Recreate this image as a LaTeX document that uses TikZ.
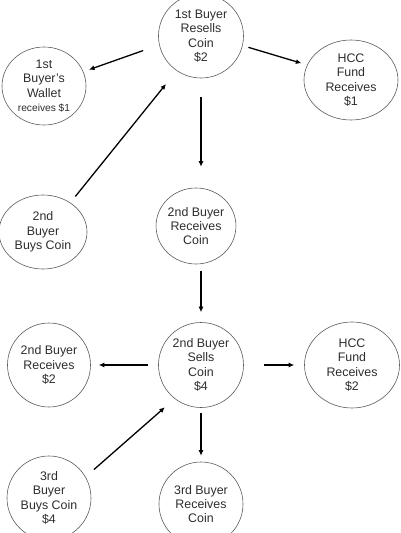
\documentclass[tikz,border=0pt]{standalone}
\usepackage{fontspec}
\setmainfont{Liberation Sans}
\usepackage{tikz}
\usetikzlibrary{arrows.meta, positioning, shapes.geometric}
\usepackage{xcolor}
\definecolor{rim}{RGB}{90,90,90}
\definecolor{ink}{RGB}{45,45,45}

\begin{document}
\begin{tikzpicture}[
    on grid,
    coin/.style={draw=rim, line width=0.6pt, ellipse, inner sep=0pt, minimum width=85pt, minimum height=84pt, align=center, text=ink, font=\fontsize{12.4}{14.4}\selectfont},
    arr/.style={-{Latex[length=5.5pt, width=5pt]}, line width=1.3pt, color=black}
  ]
  \useasboundingbox (-201pt,36pt) rectangle (199pt,-497pt);
  \node[coin] (resell) at (0,0) {1st Buyer\\Resells\\Coin\\\$2};
  \node[coin, minimum width=84pt, minimum height=78pt, below left=50pt and 157pt of resell] (wallet1) {1st\\Buyer's\\Wallet\\{\fontsize{10.2}{12}\selectfont receives \$1}};
  \node[coin, minimum width=94pt, minimum height=80pt, below right=44pt and 150pt of resell] (fund1) {HCC\\Fund\\Receives\\\$1};
  \node[coin, minimum width=88pt, minimum height=74pt, below left=196pt and 158pt of resell] (buy2) {2nd\\Buyer\\Buys Coin};
  \node[coin, minimum width=76pt, minimum height=76pt, below left=190pt and 5pt of resell] (recv2) {2nd Buyer\\Receives\\Coin};
  \node[coin, minimum height=85pt, below=329pt of resell] (sell2) {2nd Buyer\\Sells\\Coin\\\$4};
  \node[coin, minimum width=83pt, left=152pt of sell2] (get2) {2nd Buyer\\Receives\\\$2};
  \node[coin, minimum width=95pt, minimum height=86pt, right=151pt of sell2] (fund2) {HCC\\Fund\\Receives\\\$2};
  \node[coin, minimum width=84pt, below left=133pt and 152pt of sell2] (buy3) {3rd\\Buyer\\Buys Coin\\\$4};
  \node[coin, minimum width=84pt, below=139pt of sell2] (recv3) {3rd Buyer\\Receives\\Coin};
  \draw[arr, shorten <=17pt, shorten >=6pt] (resell.192) -- (wallet1.20);
  \draw[arr, shorten <=6pt, shorten >=6pt] (resell.347) -- (fund1.161);
  \draw[arr, shorten <=19pt, shorten >=21pt] (resell.south) -- (resell.south |- recv2.north);
  \draw[arr, shorten <=8pt, shorten >=17pt] (buy2.47) -- (resell.235);
  \draw[arr, shorten <=7pt, shorten >=10pt] (sell2.north |- recv2.south) -- (sell2.north);
  \draw[arr, shorten <=10pt, shorten >=8pt] (sell2.west) -- (get2.east);
  \draw[arr, shorten <=20pt, shorten >=10pt] (sell2.east) -- (fund2.west);
  \draw[arr, shorten <=5pt, shorten >=6pt] (sell2.south) -- (recv3.north);
  \draw[arr, shorten <=11pt, shorten >=13pt] (buy3.30) -- (sell2.232);
  \end{tikzpicture}
\end{document}
